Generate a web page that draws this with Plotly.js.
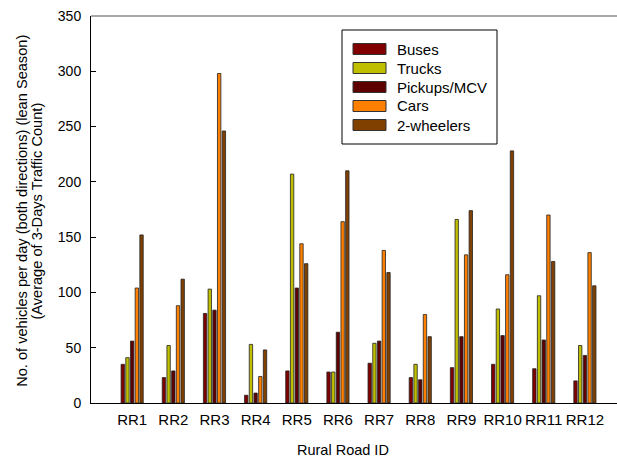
<!DOCTYPE html>
<html>
<head>
<meta charset="utf-8">
<script src="https://cdn.plot.ly/plotly-3.0.1.min.js"></script>
<style>html,body{margin:0;padding:0;background:#fff;}#chart{width:617px;height:459px;}</style>
</head>
<body>
<div id="chart"></div>
<script>
const categories = ['RR1','RR2','RR3','RR4','RR5','RR6','RR7','RR8','RR9','RR10','RR11','RR12'];
const seriesNames = ['Buses','Trucks','Pickups/MCV','Cars','2-wheelers'];
const seriesColors = ['#800000','#BFBF00','#5E0000','#FF8000','#804000'];
const buses = [35,23,81,7,29,28,36,23,32,35,31,20];
const trucks = [41,52,103,53,207,28,54,35,166,85,97,52];
const pickups = [56,29,84,9,104,64,56,21,60,61,57,43];
const cars = [104,88,298,24,144,164,138,80,134,116,170,136];
const twoWheelers = [152,112,246,48,126,210,118,60,174,228,128,106];
const yTicks = [0,50,100,150,200,250,300,350];
const yTitle1 = 'No. of vehicles per day (both directions) (lean Season)';
const yTitle2 = '(Average of 3-Days Traffic Count)';
const xTitle = 'Rural Road ID';

const allSeries = [buses, trucks, pickups, cars, twoWheelers];
const FONT = '"Liberation Sans", Arial, Helvetica, sans-serif';

const traces = allSeries.map((vals, i) => ({
  type: 'bar',
  name: seriesNames[i],
  x: categories,
  y: vals,
  marker: {color: seriesColors[i], line: {color: '#222', width: 0.8}},
  showlegend: false,
  hoverinfo: 'skip'
}));

// plot area in pixels: x 91..617, y 16..403
const L = 91, R = 617, T = 16, B = 403;
const px = v => (v - L) / (R - L);
const py = v => (B - v) / (B - T);

const shapes = [];
const annotations = [];
// top frame line
shapes.push({type:'line', xref:'paper', yref:'paper', x0:0, x1:1, y0:1, y1:1, line:{color:'#555', width:1}});
// legend box
shapes.push({type:'rect', xref:'paper', yref:'paper', x0:px(342), x1:px(497), y0:py(30), y1:py(144),
  line:{color:'#000', width:1}, fillcolor:'#fff'});
seriesNames.forEach((n, i) => {
  const cy = 49 + i * 19;
  shapes.push({type:'rect', xref:'paper', yref:'paper', x0:px(353), x1:px(386), y0:py(cy-5.5), y1:py(cy+5.5),
    line:{color:'#333', width:1}, fillcolor:seriesColors[i]});
  annotations.push({xref:'paper', yref:'paper', x:px(395), y:py(cy), text:n, showarrow:false,
    xanchor:'left', yanchor:'middle', font:{family:FONT, size:15, color:'#000'}});
});
// y title (two lines, tight spacing as in reference)
annotations.push({xref:'paper', yref:'paper', x:0, y:py(211), xshift:21.8-L, text:yTitle1, textangle:-90,
  showarrow:false, xanchor:'center', yanchor:'middle', font:{family:FONT, size:14.6, color:'#000'}});
annotations.push({xref:'paper', yref:'paper', x:0, y:py(211), xshift:36.6-L, text:yTitle2, textangle:-90,
  showarrow:false, xanchor:'center', yanchor:'middle', font:{family:FONT, size:14.6, color:'#000'}});
// x title
annotations.push({xref:'paper', yref:'paper', x:px(343), y:py(449.5), text:xTitle,
  showarrow:false, xanchor:'center', yanchor:'middle', font:{family:FONT, size:14.5, color:'#000'}});

const layout = {
  width: 617, height: 459,
  margin: {l: L, r: 0, t: T, b: 459 - B, pad: 0},
  paper_bgcolor: '#fff', plot_bgcolor: '#fff',
  font: {family: FONT, size: 14, color: '#000'},
  barmode: 'group',
  bargap: 0.43,
  bargroupgap: 0.28,
  xaxis: {
    range: [-1, 11.78],
    showline: true, linecolor: '#000', linewidth: 1,
    ticks: '', showgrid: false, zeroline: false,
    ticklabelstandoff: 3,
    tickfont: {family: FONT, size: 15, color: '#000'}
  },
  yaxis: {
    range: [0, 350],
    tickvals: yTicks,
    showline: true, linecolor: '#000', linewidth: 1,
    ticks: 'inside', ticklen: 5, tickcolor: '#000',
    ticklabelstandoff: 6,
    showgrid: false, zeroline: false,
    tickfont: {family: FONT, size: 14, color: '#000'}
  },
  shapes: shapes,
  annotations: annotations,
  showlegend: false
};

Plotly.newPlot('chart', traces, layout, {staticPlot: true, displayModeBar: false});
</script>
</body>
</html>
